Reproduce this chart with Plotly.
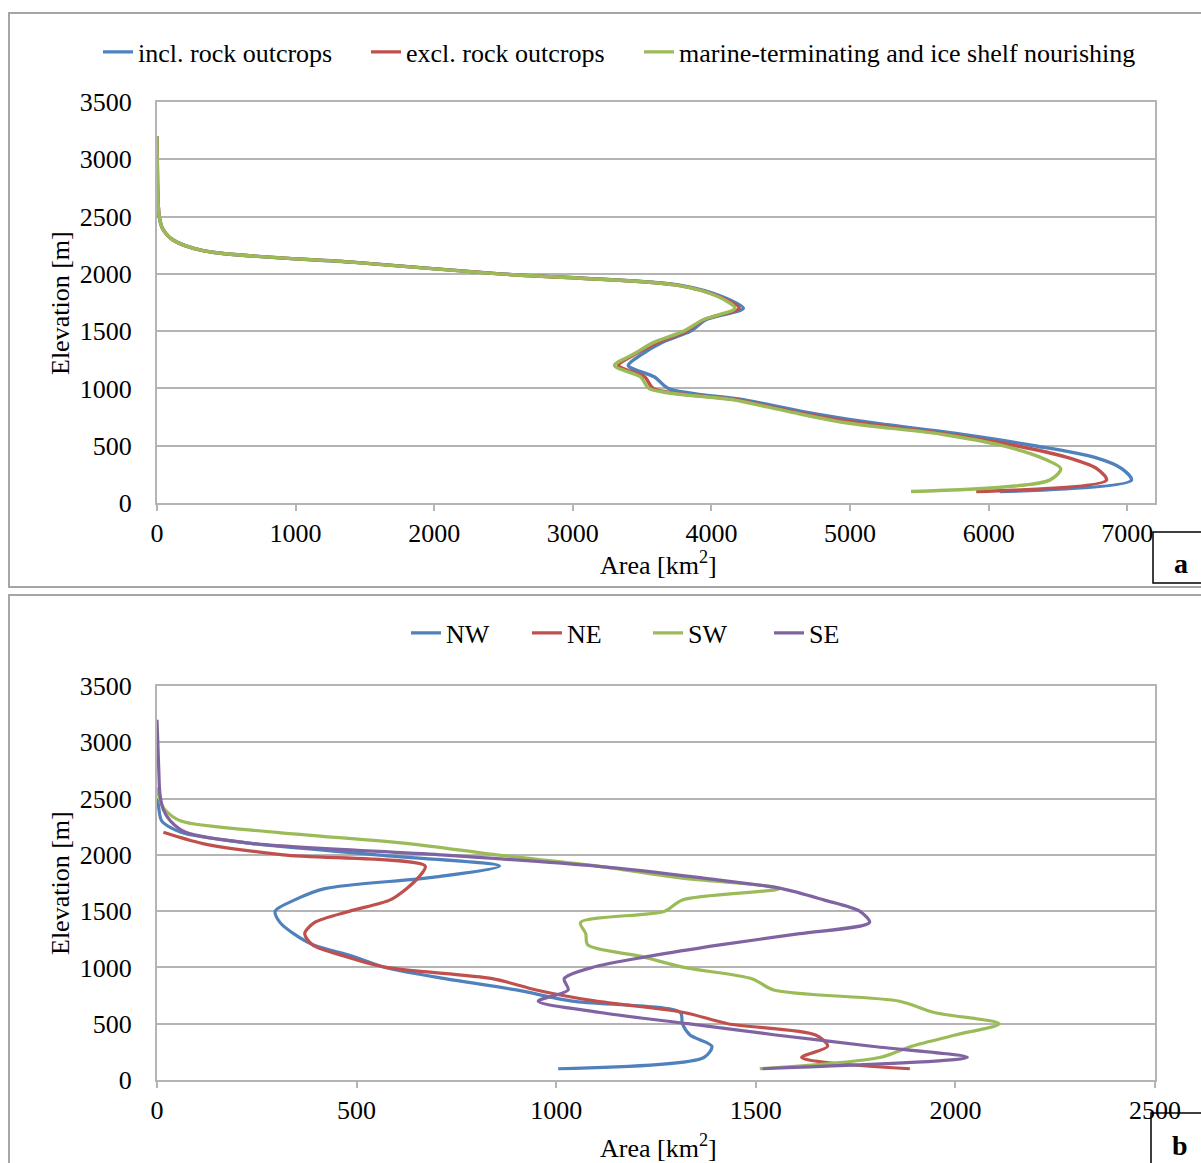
import plotly.graph_objects as go

# ---------------- data ----------------
elev_a = [100, 200, 300, 400, 500, 600, 700, 800, 900, 1000, 1100, 1200, 1300, 1400, 1500, 1600,
          1700, 1800, 1900, 2000, 2100, 2200, 2300, 2400, 2500, 2600, 2700, 2800, 2900, 3000, 3100, 3200]
incl_rock = [6080, 7030, 6960, 6760, 6330, 5800, 5160, 4650, 4240, 3690, 3590, 3400, 3500, 3640, 3850, 3960,
             4230, 4080, 3780, 2480, 1430, 340, 110, 38, 16, 9, 6, 4, 3, 2, 1, 0]
excl_rock = [5910, 6850, 6780, 6560, 6200, 5700, 5060, 4580, 4190, 3580, 3520, 3330, 3450, 3610, 3820, 3945,
             4200, 4060, 3760, 2470, 1430, 340, 110, 38, 16, 9, 6, 4, 3, 2, 1, 0]
marine_shelf = [5440, 6440, 6520, 6370, 6100, 5660, 4970, 4550, 4160, 3550, 3490, 3300, 3440, 3580, 3800, 3940,
                4170, 4050, 3760, 2460, 1420, 340, 110, 38, 16, 9, 6, 4, 3, 2, 1, 0]

elev_nw = [100, 200, 300, 400, 500, 600, 700, 800, 900, 1000, 1100, 1200, 1300, 1400, 1500, 1600,
           1700, 1800, 1900, 2000, 2100, 2200, 2300, 2400, 2500]
area_nw = [1005, 1370, 1390, 1335, 1316, 1311, 1040, 900, 722, 572, 490, 392, 342, 308, 296, 345,
           420, 690, 858, 550, 240, 60, 12, 5, 2]
elev_ne = [100, 200, 300, 400, 500, 600, 700, 800, 900, 1000, 1100, 1200, 1300, 1400, 1500, 1600,
           1700, 1800, 1900, 2000, 2100, 2200]
area_ne = [1886, 1615, 1680, 1650, 1430, 1320, 1100, 950, 840, 575, 470, 390, 370, 395, 483, 584,
           625, 655, 672, 316, 115, 16]
elev_sw = [100, 200, 300, 400, 500, 600, 700, 800, 900, 1000, 1100, 1200, 1300, 1400, 1500, 1600,
           1700, 1800, 1900, 2000, 2100, 2200, 2300, 2400, 2500, 2600]
area_sw = [1510, 1810, 1890, 2000, 2110, 1947, 1860, 1545, 1490, 1320, 1210, 1079, 1074, 1061, 1272, 1316,
           1560, 1300, 1105, 850, 630, 300, 60, 20, 6, 2]
elev_se = elev_a
area_se = [1517, 2030, 1790, 1550, 1330, 1110, 955, 1030, 1020, 1090, 1235, 1410, 1610, 1785, 1760, 1670,
           1565, 1355, 1100, 709, 240, 72, 34, 16, 9, 6, 5, 4, 3, 2, 1, 0]

names_a = ["incl. rock outcrops", "excl. rock outcrops", "marine-terminating and ice shelf nourishing"]
names_b = ["NW", "NE", "SW", "SE"]
colors = ["#4F81BD", "#C0504D", "#9BBB59", "#8064A2"]

FONT = "Liberation Serif, Times New Roman, serif"
FS = 26
W, H = 1201, 1163


def px(x):
    return x / W


def py(y):
    return 1 - y / H


fig = go.Figure()

legends_a = ["legend", "legend3", "legend4"]
series_a = [incl_rock, excl_rock, marine_shelf]
for name, vals, col, lg in zip(names_a, series_a, colors, legends_a):
    fig.add_trace(go.Scatter(x=vals, y=elev_a, mode="lines", name=name,
                             line=dict(color=col, width=3.4, shape="spline", smoothing=0.8),
                             xaxis="x", yaxis="y", legend=lg))

series_b = [(area_nw, elev_nw), (area_ne, elev_ne), (area_sw, elev_sw), (area_se, elev_se)]
for name, (xs, ys), col in zip(names_b, series_b, colors):
    fig.add_trace(go.Scatter(x=xs, y=ys, mode="lines", name=name,
                             line=dict(color=col, width=3.2, shape="spline", smoothing=0.8),
                             xaxis="x2", yaxis="y2", legend="legend2"))

grid = "#B4B4B4"
common_x = dict(showgrid=False, showline=True, linecolor=grid, linewidth=2, mirror=True,
                ticks="outside", ticklen=6, tickcolor=grid, tickwidth=2, automargin=False,
                tickfont=dict(family=FONT, size=FS, color="black"), zeroline=False)
common_y = dict(showgrid=True, gridcolor=grid, gridwidth=2, showline=True, linecolor=grid, linewidth=2,
                mirror=True, ticks="", tickfont=dict(family=FONT, size=FS, color="black"),
                automargin=False, zeroline=False, range=[0, 3500], dtick=500, ticklabelstandoff=18)


def leg(x_left, y_mid, **extra):
    d = dict(orientation="h", x=px(x_left), xanchor="left", y=py(y_mid), yanchor="middle",
             font=dict(family=FONT, size=FS, color="black"), bgcolor="rgba(0,0,0,0)",
             borderwidth=0, itemwidth=30, tracegroupgap=0)
    d.update(extra)
    return d


xdom = [px(157), px(1155)]
fig.update_layout(
    template="none",
    width=W, height=H, margin=dict(l=0, r=0, t=0, b=0, pad=0, autoexpand=False),
    paper_bgcolor="white", plot_bgcolor="white",
    font=dict(family=FONT, size=FS, color="black"),
    xaxis=dict(domain=xdom, range=[0, 7200], tickvals=[0, 1000, 2000, 3000, 4000, 5000, 6000, 7000],
               anchor="y", **common_x),
    yaxis=dict(domain=[py(503), py(102)], anchor="x", **common_y),
    xaxis2=dict(domain=xdom, range=[0, 2500], dtick=500, anchor="y2", **common_x),
    yaxis2=dict(domain=[py(1080), py(686)], anchor="x2", **common_y),
    legend=leg(98, 52),
    legend3=leg(366, 52),
    legend4=leg(639, 52),
    legend2=leg(406, 633, entrywidth=76, entrywidthmode="pixels"),
    showlegend=True,
)

# panel frames
fig.add_shape(type="rect", xref="paper", yref="paper", x0=px(9), x1=px(1215), y0=py(587), y1=py(13),
              line=dict(color="#A6A6A6", width=2), layer="below")
fig.add_shape(type="rect", xref="paper", yref="paper", x0=px(9), x1=px(1215), y0=py(1175), y1=py(595),
              line=dict(color="#A6A6A6", width=2), layer="below")
# panel letter boxes
fig.add_shape(type="rect", xref="paper", yref="paper", x0=px(1153), x1=px(1215), y0=py(583), y1=py(532),
              line=dict(color="black", width=1.5), fillcolor="rgba(0,0,0,0)", layer="above")
fig.add_shape(type="rect", xref="paper", yref="paper", x0=px(1151), x1=px(1215), y0=py(1175), y1=py(1113),
              line=dict(color="black", width=1.5), fillcolor="rgba(0,0,0,0)", layer="above")

annots = [
    dict(text="<b>a</b>", x=px(1181), y=py(563), font=dict(family=FONT, size=28, color="black")),
    dict(text="<b>b</b>", x=px(1180), y=py(1145), font=dict(family=FONT, size=28, color="black")),
    dict(text="Area [km<sup>2</sup>]", x=px(658), y=py(563)),
    dict(text="Area [km<sup>2</sup>]", x=px(658), y=py(1146)),
    dict(text="Elevation [m]", x=px(60), y=py(303), textangle=-90),
    dict(text="Elevation [m]", x=px(60), y=py(883), textangle=-90),
]
for a in annots:
    a.setdefault("font", dict(family=FONT, size=FS, color="black"))
    fig.add_annotation(xref="paper", yref="paper", showarrow=False, xanchor="center", yanchor="middle", **a)

fig.write_html("out.html")
